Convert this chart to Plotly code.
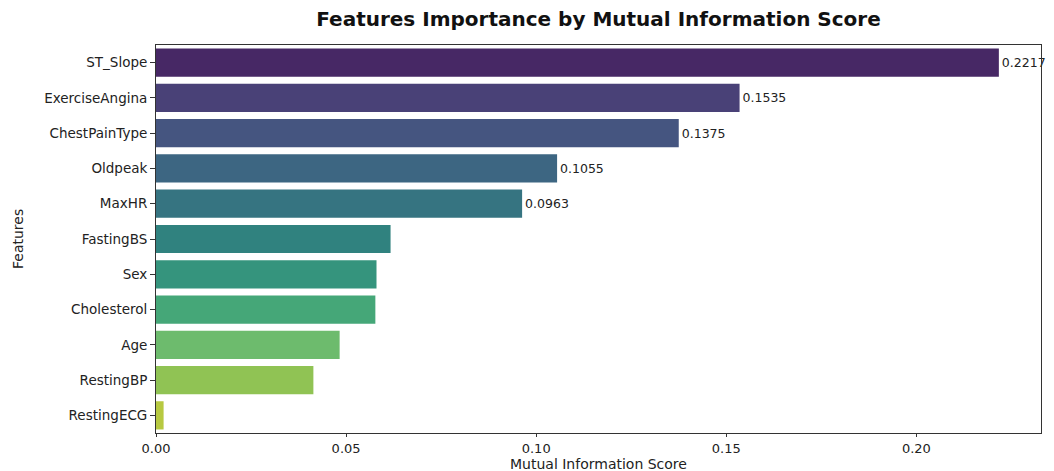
import colorsys
import plotly.graph_objects as go
from plotly.colors import sample_colorscale, unconvert_from_RGB_255, unlabel_rgb

features = ["ST_Slope", "ExerciseAngina", "ChestPainType", "Oldpeak", "MaxHR",
            "FastingBS", "Sex", "Cholesterol", "Age", "RestingBP", "RestingECG"]
scores = [0.2217, 0.1535, 0.1375, 0.1055, 0.0963,
          0.0617, 0.0580, 0.0577, 0.0483, 0.0414, 0.0020]
n_labeled = 5
labels = [f"{v:.4f}" if i < n_labeled else "" for i, v in enumerate(scores)]
x_ticks = [0, 0.05, 0.10, 0.15, 0.20]
x_ticktext = ["0.00", "0.05", "0.10", "0.15", "0.20"]

# seaborn-like viridis palette with 0.75 desaturation
n = len(features)
positions = [(i + 1) / (n + 1) for i in range(n)]
raw = sample_colorscale("Viridis", positions)
colors = []
for c in raw:
    r, g, b = unconvert_from_RGB_255(unlabel_rgb(c))
    h, l, s = colorsys.rgb_to_hls(r, g, b)
    r, g, b = colorsys.hls_to_rgb(h, l, s * 0.75)
    colors.append(f"rgb({r*255:.0f},{g*255:.0f},{b*255:.0f})")

# figure is drawn with an 8px page offset, so size it to fit the window
W, H = 1046, 463
L, R, T, B = 148, 13, 37, 37.5
plot_w = W - L - R
plot_h = H - T - B

fig = go.Figure(go.Bar(
    x=scores, y=features, orientation="h",
    marker=dict(color=colors, line=dict(width=0)),
    text=labels, textposition="outside", cliponaxis=False,
    textfont=dict(family="DejaVu Sans", size=12.5, color="#222"),
    hoverinfo="x+y",
))

fig.update_layout(
    width=W, height=H,
    margin=dict(l=L, r=R, t=T, b=B, autoexpand=False),
    paper_bgcolor="white", plot_bgcolor="white",
    bargap=0.2,
    showlegend=False,
    font=dict(family="DejaVu Sans", color="#222"),
    title=dict(text="<b>Features Importance by Mutual Information Score</b>",
               x=(L + plot_w / 2) / W, xanchor="center", y=1 - 11 / H, yanchor="middle",
               font=dict(family="DejaVu Sans", size=20, color="#111"), automargin=False),
    xaxis=dict(range=[0, max(scores) * 1.05], tickvals=x_ticks, ticktext=x_ticktext,
               automargin=False,
               showgrid=False, zeroline=False, showline=True, linecolor="#333", linewidth=1,
               mirror=True, ticks="outside", ticklen=3, tickcolor="#333",
               tickfont=dict(size=13)),
    yaxis=dict(categoryorder="array", categoryarray=features[::-1], automargin=False,
               showgrid=False, zeroline=False, showline=True, linecolor="#333", linewidth=1,
               mirror=True, ticks="outside", ticklen=5, tickcolor="#333",
               tickfont=dict(size=13.5)),
    annotations=[
        dict(text="Mutual Information Score", xref="paper", yref="paper",
             x=0.5, y=-(457 - (H - B)) / plot_h, xanchor="center", yanchor="middle",
             showarrow=False, font=dict(size=14, color="#222")),
        dict(text="Features", xref="paper", yref="paper",
             x=(10 - L) / plot_w, y=0.5, xanchor="center", yanchor="middle",
             textangle=-90, showarrow=False, font=dict(size=14, color="#222")),
    ],
)

fig.write_html("out.html")
